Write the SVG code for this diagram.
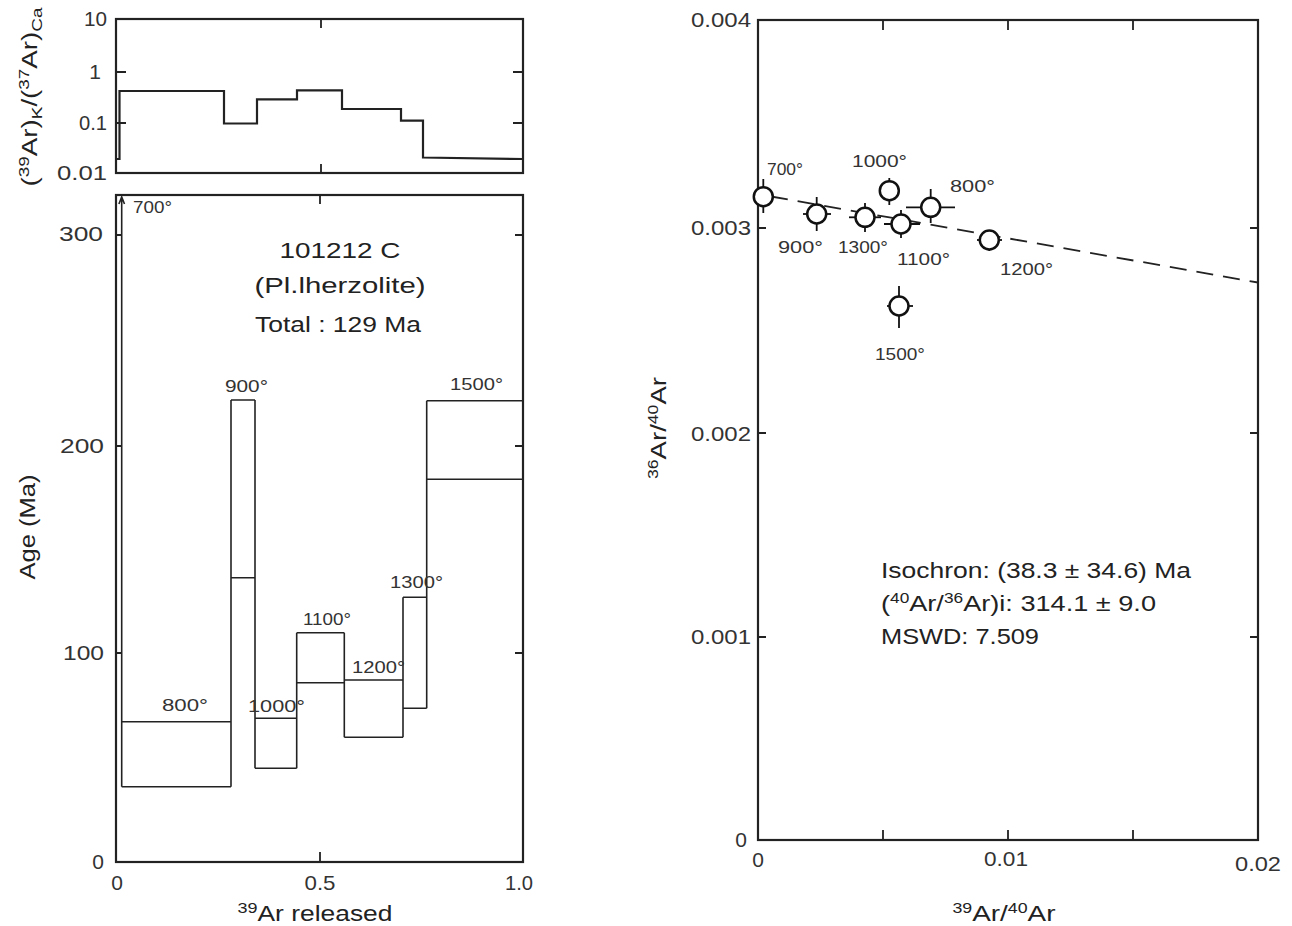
<svg xmlns="http://www.w3.org/2000/svg" width="1292" height="926" viewBox="0 0 1292 926">
<style>
.ax{fill:none;stroke:#222;stroke-width:2.2}
.tk{fill:none;stroke:#222;stroke-width:1.8}
.st{fill:none;stroke:#222;stroke-width:1.6}
.step{fill:none;stroke:#222;stroke-width:2.2}
.tl{font-family:"Liberation Sans",Arial,sans-serif;font-size:21px;fill:#333}
.dl{font-family:"Liberation Sans",Arial,sans-serif;font-size:17px;fill:#333}
.lb{font-family:"Liberation Sans",Arial,sans-serif;font-size:22px;fill:#222}
.pt circle{fill:#fff;stroke:#111;stroke-width:2.5}
.pt line{stroke:#111;stroke-width:1.8}
.fit{fill:none;stroke:#222;stroke-width:1.8;stroke-dasharray:17 10}
</style>
<rect width="1292" height="926" fill="#fff"/>

<!-- Top panel: K/Ca -->
<g id="kca-panel">
<rect class="ax" x="116" y="19" width="407" height="154"/>
<path class="tk" d="M321 19V28M321 173V164M116 72H126M116 123H126M523 72H513M523 123H513"/>
<path class="step" d="M116 159H119.5V91H224V123.5H257V99.3H297V90.3H342V109H401V120.7H423V157.5L523 159"/>
<text class="tl" x="107" y="26" text-anchor="end" textLength="23" lengthAdjust="spacingAndGlyphs">10</text>
<text class="tl" x="101" y="79" text-anchor="end">1</text>
<text class="tl" x="107" y="130" text-anchor="end" textLength="28" lengthAdjust="spacingAndGlyphs">0.1</text>
<text class="tl" x="107" y="180" text-anchor="end" textLength="50" lengthAdjust="spacingAndGlyphs">0.01</text>
<text class="lb" transform="translate(37,97) rotate(-90)" text-anchor="middle" font-size="21" textLength="179" lengthAdjust="spacingAndGlyphs">(<tspan dy="-8" font-size="15">39</tspan><tspan dy="8">Ar)</tspan><tspan dy="5" font-size="15">K</tspan><tspan dy="-5">/(</tspan><tspan dy="-8" font-size="15">37</tspan><tspan dy="8">Ar)</tspan><tspan dy="5" font-size="15">Ca</tspan></text>
</g>

<!-- Age spectrum panel -->
<g id="age-panel">
<rect class="ax" x="116" y="195" width="407" height="667"/>
<path class="tk" d="M320 195V204M320 862V852M116 235H122M116 446H122M116 653H122M523 235H515M523 446H515M523 653H515"/>
<text class="tl" x="103" y="241" text-anchor="end" textLength="44" lengthAdjust="spacingAndGlyphs">300</text>
<text class="tl" x="104" y="453" text-anchor="end" textLength="44" lengthAdjust="spacingAndGlyphs">200</text>
<text class="tl" x="104" y="660" text-anchor="end" textLength="41" lengthAdjust="spacingAndGlyphs">100</text>
<text class="tl" x="104" y="869" text-anchor="end">0</text>
<text class="tl" x="117" y="890" text-anchor="middle">0</text>
<text class="tl" x="320" y="890" text-anchor="middle" textLength="31" lengthAdjust="spacingAndGlyphs">0.5</text>
<text class="tl" x="519" y="890" text-anchor="middle" textLength="28" lengthAdjust="spacingAndGlyphs">1.0</text>
<text class="lb" x="315" y="921" text-anchor="middle" font-size="23" textLength="155" lengthAdjust="spacingAndGlyphs"><tspan dy="-8" font-size="15">39</tspan><tspan dy="8">Ar released</tspan></text>
<text class="lb" transform="translate(35,527) rotate(-90)" text-anchor="middle" font-size="23" textLength="105" lengthAdjust="spacingAndGlyphs">Age (Ma)</text>
<text class="lb" x="340" y="258" text-anchor="middle" font-size="24" textLength="121" lengthAdjust="spacingAndGlyphs">101212 C</text>
<text class="lb" x="340" y="293" text-anchor="middle" font-size="24" textLength="171" lengthAdjust="spacingAndGlyphs">(Pl.lherzolite)</text>
<text class="lb" x="338" y="332" text-anchor="middle" font-size="23" textLength="166" lengthAdjust="spacingAndGlyphs">Total : 129 Ma</text>
</g>

<g id="steps">
<g id="s700"><path class="st" d="M121.7 197V786.7M118.9 204L121.7 197L124.5 204"/><text class="dl" x="133" y="213" textLength="39" lengthAdjust="spacingAndGlyphs">700°</text></g>
<g id="s800"><path class="st" d="M121.7 721.7H231M121.7 786.7H231M231 400V786.7"/><text class="dl" x="162" y="711" textLength="46" lengthAdjust="spacingAndGlyphs">800°</text></g>
<g id="s900"><path class="st" d="M231 400H255M231 577.7H255M255 400V768.3"/><text class="dl" x="225" y="392" textLength="43" lengthAdjust="spacingAndGlyphs">900°</text></g>
<g id="s1000"><path class="st" d="M255 718.3H296.7M255 768.3H296.7M296.7 632.7V768.3"/><text class="dl" x="248" y="712" textLength="57" lengthAdjust="spacingAndGlyphs">1000°</text></g>
<g id="s1100"><path class="st" d="M296.7 632.7H344.3M296.7 682.7H344.3M344.3 632.7V737.3"/><text class="dl" x="303" y="625" textLength="48" lengthAdjust="spacingAndGlyphs">1100°</text></g>
<g id="s1200"><path class="st" d="M344.3 680H403M344.3 737.3H403M403 597.3V737.3"/><text class="dl" x="352" y="673" textLength="53" lengthAdjust="spacingAndGlyphs">1200°</text></g>
<g id="s1300"><path class="st" d="M403 597.3H426.7M403 708.3H426.7M426.7 400.7V708.3"/><text class="dl" x="390" y="588" textLength="53" lengthAdjust="spacingAndGlyphs">1300°</text></g>
<g id="s1500"><path class="st" d="M426.7 400.7H523M426.7 479.3H523"/><text class="dl" x="450" y="390" textLength="53" lengthAdjust="spacingAndGlyphs">1500°</text></g>
</g>

<!-- Isochron panel -->
<g id="iso-panel">
<rect class="ax" x="758" y="20" width="500" height="820"/>
<path class="tk" d="M883 20V30M1008 20V30M1133 20V30M883 840V830M1008 840V830M1133 840V830M758 228H766M758 433H766M758 637H766M1258 228H1250M1258 433H1250M1258 637H1250"/>
<text class="tl" x="751" y="27" text-anchor="end" textLength="60" lengthAdjust="spacingAndGlyphs">0.004</text>
<text class="tl" x="751" y="235" text-anchor="end" textLength="60" lengthAdjust="spacingAndGlyphs">0.003</text>
<text class="tl" x="751" y="441" text-anchor="end" textLength="60" lengthAdjust="spacingAndGlyphs">0.002</text>
<text class="tl" x="751" y="644" text-anchor="end" textLength="60" lengthAdjust="spacingAndGlyphs">0.001</text>
<text class="tl" x="747" y="847" text-anchor="end">0</text>
<text class="tl" x="758" y="867" text-anchor="middle">0</text>
<text class="tl" x="1006" y="866" text-anchor="middle" textLength="44" lengthAdjust="spacingAndGlyphs">0.01</text>
<text class="tl" x="1258" y="871" text-anchor="middle" textLength="46" lengthAdjust="spacingAndGlyphs">0.02</text>
<text class="lb" x="1004" y="921" text-anchor="middle" font-size="21" textLength="103" lengthAdjust="spacingAndGlyphs"><tspan dy="-8" font-size="14">39</tspan><tspan dy="8">Ar/</tspan><tspan dy="-8" font-size="14">40</tspan><tspan dy="8">Ar</tspan></text>
<text class="lb" transform="translate(666,428) rotate(-90)" text-anchor="middle" font-size="21" textLength="102" lengthAdjust="spacingAndGlyphs"><tspan dy="-8" font-size="14">36</tspan><tspan dy="8">Ar/</tspan><tspan dy="-8" font-size="14">40</tspan><tspan dy="8">Ar</tspan></text>
<text class="lb" x="881" y="578" font-size="21" textLength="310" lengthAdjust="spacingAndGlyphs">Isochron: (38.3 ± 34.6) Ma</text>
<text class="lb" x="881" y="611" font-size="21" textLength="275" lengthAdjust="spacingAndGlyphs">(<tspan dy="-8" font-size="14">40</tspan><tspan dy="8">Ar/</tspan><tspan dy="-8" font-size="14">36</tspan><tspan dy="8">Ar)i: 314.1 ± 9.0</tspan></text>
<text class="lb" x="881" y="644" font-size="21" textLength="158" lengthAdjust="spacingAndGlyphs">MSWD: 7.509</text>
</g>

<g id="connectors">
<path class="fit" d="M771 196.5L1258 282.5"/>
</g>

<g id="p700" class="pt"><line x1="763.3" y1="179" x2="763.3" y2="213"/><line x1="757" y1="196.7" x2="770" y2="196.7"/><circle cx="763.3" cy="196.7" r="9.5"/><text class="dl" x="767" y="175" textLength="36" lengthAdjust="spacingAndGlyphs">700°</text></g>
<g id="p900" class="pt"><line x1="816.7" y1="197" x2="816.7" y2="231"/><line x1="803" y1="214" x2="831" y2="214"/><circle cx="816.7" cy="214" r="9.5"/><text class="dl" x="778" y="253" textLength="45" lengthAdjust="spacingAndGlyphs">900°</text></g>
<g id="p1300" class="pt"><line x1="865" y1="203" x2="865" y2="232"/><line x1="849" y1="217.3" x2="881" y2="217.3"/><circle cx="865" cy="217.3" r="9.5"/><text class="dl" x="838" y="253" textLength="50" lengthAdjust="spacingAndGlyphs">1300°</text></g>
<g id="p1000" class="pt"><line x1="889.3" y1="178" x2="889.3" y2="205"/><line x1="879" y1="190.7" x2="900" y2="190.7"/><circle cx="889.3" cy="190.7" r="9.5"/><text class="dl" x="852" y="167" textLength="55" lengthAdjust="spacingAndGlyphs">1000°</text></g>
<g id="p1100" class="pt"><line x1="901" y1="210" x2="901" y2="238"/><line x1="884" y1="224" x2="920" y2="224"/><circle cx="901" cy="224" r="9.5"/><text class="dl" x="897" y="265" textLength="53" lengthAdjust="spacingAndGlyphs">1100°</text></g>
<g id="p800" class="pt"><line x1="930.7" y1="189" x2="930.7" y2="223"/><line x1="906" y1="207.3" x2="955" y2="207.3"/><circle cx="930.7" cy="207.3" r="9.5"/><text class="dl" x="950" y="192" textLength="45" lengthAdjust="spacingAndGlyphs">800°</text></g>
<g id="p1200" class="pt"><line x1="989.3" y1="230" x2="989.3" y2="251"/><line x1="977" y1="240" x2="1002" y2="240"/><circle cx="989.3" cy="240" r="9.5"/><text class="dl" x="1000" y="275" textLength="53" lengthAdjust="spacingAndGlyphs">1200°</text></g>
<g id="p1500" class="pt"><line x1="899" y1="286" x2="899" y2="328"/><line x1="887" y1="306" x2="913" y2="306"/><circle cx="899" cy="306" r="9.5"/><text class="dl" x="875" y="360" textLength="50" lengthAdjust="spacingAndGlyphs">1500°</text></g>
</svg>
